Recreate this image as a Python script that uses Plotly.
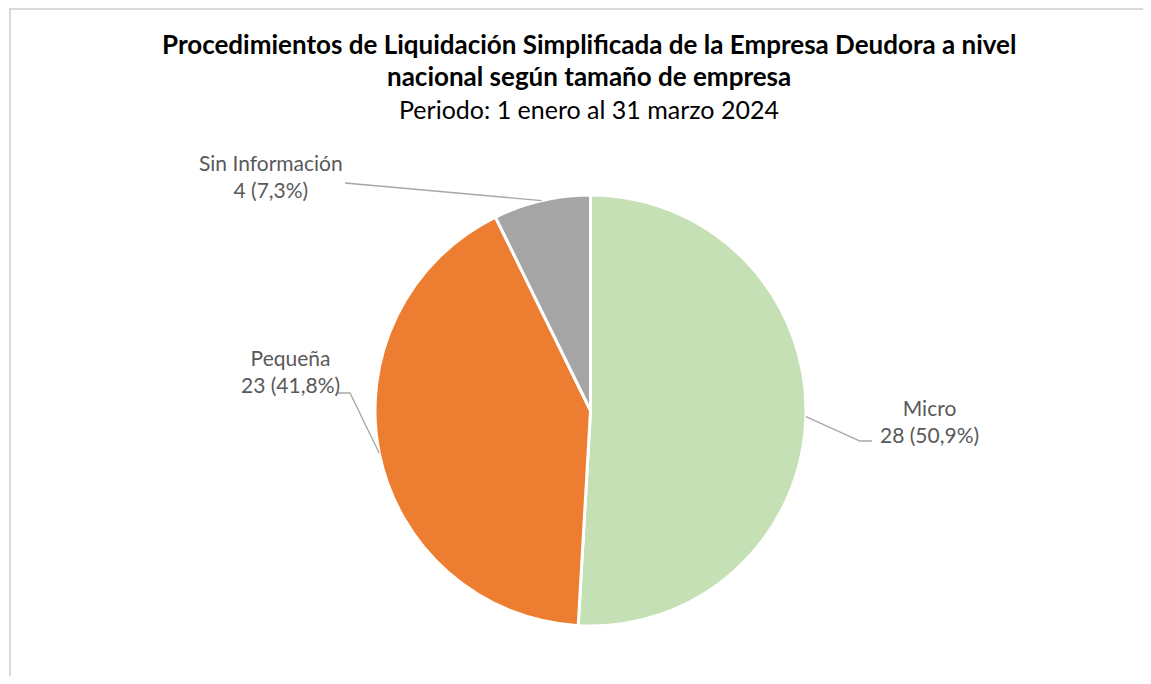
import math
import plotly.graph_objects as go

# ---- data ----
categories = ["Micro", "Pequeña", "Sin Información"]
values = [28, 23, 4]
colors = ["#C5E0B4", "#ED7D31", "#A5A5A5"]

title_line1 = "Procedimientos de Liquidación Simplificada de la Empresa Deudora a nivel"
title_line2 = "nacional según tamaño de empresa"
title_line3 = "Periodo: 1 enero al 31 marzo 2024"

# ---- layout geometry (page pixels) ----
PAGE_W, PAGE_H = 1151, 684
OFF = 8  # default body margin of the html page
W, H = PAGE_W - 2 * OFF, PAGE_H - 2 * OFF
CX, CY, R = 590.5, 410.5, 215.5
FONT = "Lato"

# label centres (page pixels) and leader-line elbows
label_pos = {"Micro": (929, 421), "Pequeña": (290, 371), "Sin Información": (271, 176)}
elbow = {"Micro": [(860, 441), (872, 441)],
         "Pequeña": [(350, 393), (338, 393)],
         "Sin Información": [(345, 183)]}

def px(x):
    return (x - OFF) / W

def py(y):
    return 1 - (y - OFF) / H

fig = go.Figure()
fig.add_trace(go.Pie(
    labels=categories, values=values, sort=False, direction="clockwise", rotation=0,
    marker=dict(colors=colors, line=dict(color="white", width=3)),
    textinfo="none", hoverinfo="label+value+percent", showlegend=False,
    domain=dict(x=[px(CX - R), px(CX + R)], y=[py(CY + R), py(CY - R)]),
))

total = sum(values)
shapes = []
annotations = []
cum = 0.0
for cat, v in zip(categories, values):
    start = cum
    cum += v
    mid = (start + cum) / 2 / total
    ang = math.radians(90 - 360 * mid)
    ex, ey = CX + R * math.cos(ang), CY - R * math.sin(ang)
    pts = [(ex, ey)] + elbow[cat]
    path = "M " + " L ".join(f"{px(x)},{py(y)}" for x, y in pts)
    shapes.append(dict(type="path", xref="paper", yref="paper", path=path,
                       line=dict(color="#A6A6A6", width=1.3)))
    pct = f"{100 * v / total:.1f}".replace(".", ",")
    lx, ly = label_pos[cat]
    annotations.append(dict(x=px(lx), y=py(ly), xref="paper", yref="paper",
                            text=f"{cat}<br>{v} ({pct}%)", showarrow=False,
                            xanchor="center", yanchor="middle", align="center",
                            font=dict(family=FONT, size=21, color="#595959")))

# border of chart area (left and top edges; the rest lies outside the picture)
shapes.append(dict(type="path", xref="paper", yref="paper",
                   path=f"M {px(10)},-0.1 L {px(10)},{py(9)} L 1.1,{py(9)}",
                   line=dict(color="#D9D9D9", width=2)))

for txt, y, bold, size in [(title_line1, 44, True, 26), (title_line2, 76, True, 26),
                           (title_line3, 109, False, 25)]:
    annotations.append(dict(x=px(589), y=py(y), xref="paper", yref="paper",
                            text=f"<b>{txt}</b>" if bold else txt, showarrow=False,
                            xanchor="center", yanchor="middle",
                            font=dict(family=FONT, size=size, color="black")))

fig.update_layout(
    width=W, height=H, margin=dict(l=0, r=0, t=0, b=0),
    paper_bgcolor="white", plot_bgcolor="white",
    shapes=shapes, annotations=annotations,
)

fig.write_html("out.html")
